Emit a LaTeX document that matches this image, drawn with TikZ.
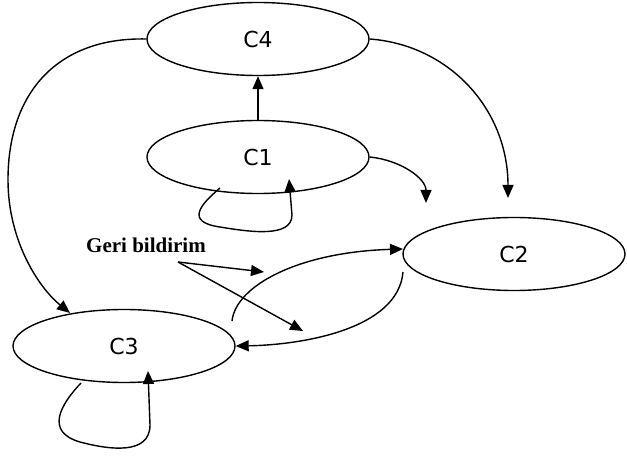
\documentclass[tikz,border=0pt]{standalone}
\usepackage{fontspec}
\setmainfont{Liberation Serif}
\newfontfamily\lblfont{DejaVu Sans}
\usetikzlibrary{shapes.geometric,arrows.meta}
\begin{document}
\begin{tikzpicture}[x=1pt,y=-1pt,
  state/.style={draw,ellipse,line width=1.4pt,minimum width=222pt,minimum height=73pt,inner sep=0pt,font=\lblfont\fontsize{22}{22}\selectfont},
  arr/.style={line width=1.4pt,-{Triangle[length=13pt,width=11pt]}},
  lbl/.style={font=\bfseries\fontsize{21}{21}\selectfont,inner sep=0pt}]
\useasboundingbox (0,0) rectangle (627,457);
\node[state] (c4) at (258,39) {\raisebox{-4pt}{C4}};
\node[state] (c1) at (258,157) {\raisebox{-4pt}{C1}};
\node[state] (c2) at (514,254) {\raisebox{-3pt}{C2}};
\node[state] (c3) at (124,346) {\raisebox{-3pt}{C3}};
\node[lbl,anchor=base west] (geri) at (86,253) {Geri bildirim};
\coordinate (g) at (178,262);
\coordinate (g1) at (264,272);
\coordinate (g2) at (303,331);
\coordinate (c1e) at (426,203);
\coordinate (c4e) at (508,198);
\coordinate (c1la) at (220,188);
\coordinate (c1lb) at (289,179);
\coordinate (c3la) at (81,383);
\coordinate (c3lb) at (148,371);
\coordinate (c3s) at (232,321);
\coordinate (c2t) at (403,249);
\coordinate (c2s) at (403,272);
% C1 -> C4
\draw[arr] (c1.north) -- (c4.south);
% C4 -> C3
\draw[arr] (c4.west) .. controls (60,37) and (8,90) .. (8,180) .. controls (8,240) and (38,287) .. (70,313);
% C4 -> right
\draw[arr] (c4.east) .. controls (450,45) and (508,110) .. (c4e);
% C1 -> right
\draw[arr] (c1.east) .. controls (400,160) and (426,178) .. (c1e);
% C1 self loop
\draw[arr] (c1la) .. controls (200,205) and (185,222) .. (220,227) .. controls (250,232) and (292,238) .. (292,215) -- (c1lb);
% C3 self loop
\draw[arr] (c3la) .. controls (60,405) and (45,432) .. (80,442) .. controls (110,450) and (150,455) .. (150,425) -- (c3lb);
% Geri bildirim arrows
\draw[arr] (g) -- (g1);
\draw[arr] (g) -- (g2);
% C3 -> C2
\draw[arr] (c3s) .. controls (236,285) and (300,252) .. (c2t);
% C2 -> C3
\draw[arr] (c2s) .. controls (398,330) and (300,345) .. (c3.east);
\end{tikzpicture}
\end{document}
